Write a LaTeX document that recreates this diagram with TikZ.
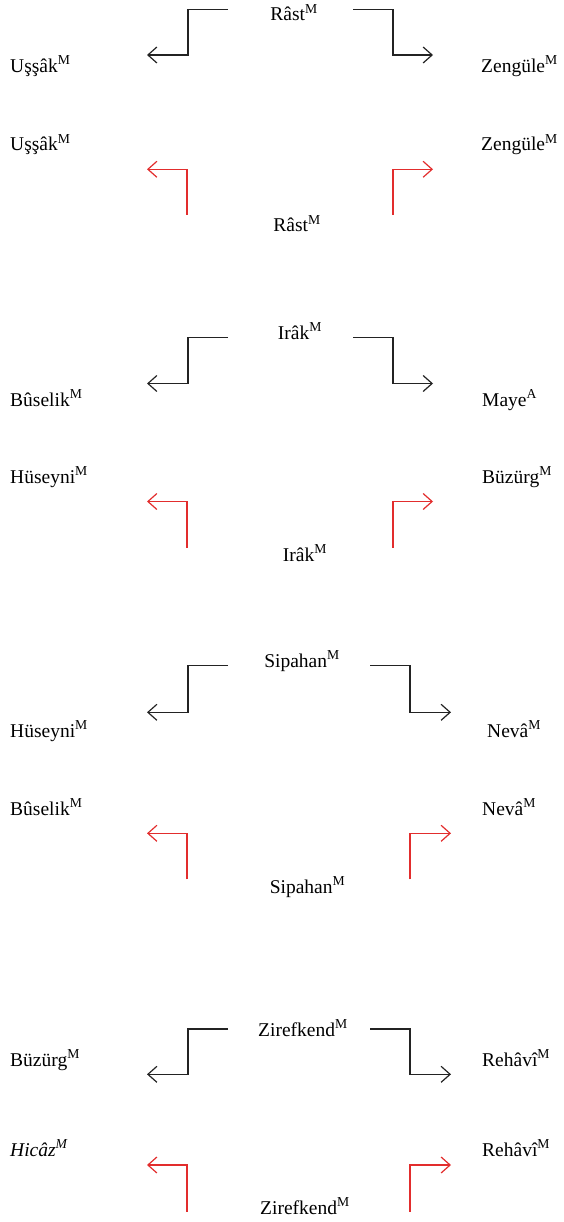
\documentclass[tikz,border=0pt]{standalone}
\usepackage{fontspec}
\setmainfont{Liberation Serif}
\usetikzlibrary{arrows.meta}
\definecolor{inkdark}{RGB}{35,35,35}
\definecolor{inkred}{RGB}{226,45,45}
\tikzset{
  lbl/.style={inner sep=0pt, font=\fontsize{19.5}{23}\selectfont},
  side/.style={lbl, anchor=base west},
  mid/.style={lbl, anchor=base},
  fwd/.style={draw=inkdark, line width=1.2pt, -{Straight Barb[length=9pt,width=16pt]}},
  bwd/.style={draw=inkred, line width=1.2pt, -{Straight Barb[length=9pt,width=16pt]}}
}
\newcommand\mk[1]{#1\textsuperscript{M}}
\begin{document}
\begin{tikzpicture}[x=1pt,y=-1pt]
\useasboundingbox (0,0) rectangle (563,1222);

% ---------- Rast ----------
\node[mid]  (r1top) at (294,20.7) {\mk{Râst}};
\node[side] (r1l1)  at (10,72.5)  {\mk{Uşşâk}};
\node[side] (r1r1)  at (481,72.5) {\mk{Zengüle}};
\node[side] (r1l2)  at (10,151)   {\mk{Uşşâk}};
\node[side] (r1r2)  at (481,151)  {\mk{Zengüle}};
\node[mid]  (r1bot) at (297,232)  {\mk{Râst}};
\coordinate (r1a) at (228,9.3);  \coordinate (r1at) at (147,55);
\coordinate (r1b) at (353,9.3);  \coordinate (r1bt) at (433,55);
\coordinate (r1c) at (187,215);  \coordinate (r1ct) at (147,169.3);
\coordinate (r1d) at (393,215);  \coordinate (r1dt) at (433,169.3);
\draw[fwd] (r1a) -- ++(-40,0) |- (r1at);
\draw[fwd] (r1b) -- ++(40,0) |- (r1bt);
\draw[bwd] (r1c) |- (r1ct);
\draw[bwd] (r1d) |- (r1dt);

% ---------- Irak ----------
\node[mid]  (r2top) at (300,339)   {\mk{Irâk}};
\node[side] (r2l1)  at (10,406)    {\mk{Bûselik}};
\node[side] (r2r1)  at (482,406)   {Maye\textsuperscript{A}};
\node[side] (r2l2)  at (10,483)    {\mk{Hüseyni}};
\node[side] (r2r2)  at (482,483)   {\mk{Büzürg}};
\node[mid]  (r2bot) at (305,561.5) {\mk{Irâk}};
\coordinate (r2a) at (228,337.5); \coordinate (r2at) at (147,383.5);
\coordinate (r2b) at (353,337.5); \coordinate (r2bt) at (433,383.5);
\coordinate (r2c) at (187,547.5); \coordinate (r2ct) at (147,501.5);
\coordinate (r2d) at (393,547.5); \coordinate (r2dt) at (433,501.5);
\draw[fwd] (r2a) -- ++(-40,0) |- (r2at);
\draw[fwd] (r2b) -- ++(40,0) |- (r2bt);
\draw[bwd] (r2c) |- (r2ct);
\draw[bwd] (r2d) |- (r2dt);

% ---------- Sipahan ----------
\node[mid]  (r3top) at (302,667)   {\mk{Sipahan}};
\node[side] (r3l1)  at (10,737)    {\mk{Hüseyni}};
\node[side] (r3r1)  at (487,737)   {\mk{Nevâ}};
\node[side] (r3l2)  at (10,815)    {\mk{Bûselik}};
\node[side] (r3r2)  at (482,815)   {\mk{Nevâ}};
\node[mid]  (r3bot) at (307.5,893) {\mk{Sipahan}};
\coordinate (r3a) at (228,665.7); \coordinate (r3at) at (147,712.3);
\coordinate (r3b) at (370,665.7); \coordinate (r3bt) at (451,712.3);
\coordinate (r3c) at (187,879.3); \coordinate (r3ct) at (147,833.3);
\coordinate (r3d) at (410,879.3); \coordinate (r3dt) at (451,833.3);
\draw[fwd] (r3a) -- ++(-40,0) |- (r3at);
\draw[fwd] (r3b) -- ++(40,0) |- (r3bt);
\draw[bwd] (r3c) |- (r3ct);
\draw[bwd] (r3d) |- (r3dt);

% ---------- Zirefkend ----------
\node[mid]  (r4top) at (303,1036)    {\mk{Zirefkend}};
\node[side] (r4l1)  at (10,1066.5)   {\mk{Büzürg}};
\node[side] (r4r1)  at (482,1066.5)  {\mk{Rehâvî}};
\node[side] (r4l2)  at (10,1156.5)   {\textit{\mk{Hicâz}}};
\node[side] (r4r2)  at (482,1156.5)  {\mk{Rehâvî}};
\node[mid]  (r4bot) at (305,1214.5)  {\mk{Zirefkend}};
\coordinate (r4a) at (228,1029);   \coordinate (r4at) at (147,1074.3);
\coordinate (r4b) at (370,1029);   \coordinate (r4bt) at (451,1074.3);
\coordinate (r4c) at (187,1211.7); \coordinate (r4ct) at (147,1165);
\coordinate (r4d) at (410,1211.7); \coordinate (r4dt) at (451,1165);
\draw[fwd] (r4a) -- ++(-40,0) |- (r4at);
\draw[fwd] (r4b) -- ++(40,0) |- (r4bt);
\draw[bwd] (r4c) |- (r4ct);
\draw[bwd] (r4d) |- (r4dt);
\end{tikzpicture}
\end{document}
